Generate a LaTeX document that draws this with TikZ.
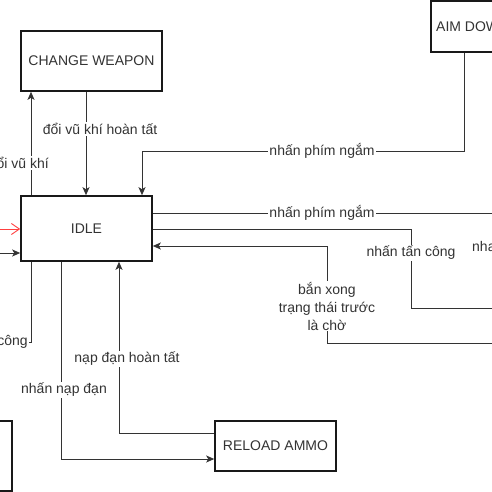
\documentclass[tikz,border=0pt]{standalone}
\usepackage{fontspec}
\setmainfont{Liberation Sans}
\usetikzlibrary{arrows.meta}
\definecolor{ink}{HTML}{333333}
\tikzset{
  state/.style={draw=black!90, line width=1.6pt, fill=white, text=ink, font=\fontsize{14}{17}\selectfont, inner sep=0pt},
  conn/.style={draw=ink, line width=0.9pt},
  arr/.style={conn, -{Stealth[length=8pt,width=7pt,inset=2pt]}},
  redarr/.style={draw=red!75, line width=0.9pt, -{Straight Barb[length=8pt,width=11pt]}},
  lbl/.style={fill=white, text=ink, font=\fontsize{14}{18}\selectfont, inner sep=1pt, align=center}
}
\begin{document}
\begin{tikzpicture}[x=1pt,y=-1pt]
\useasboundingbox (0,0) rectangle (492,492);
\clip (0,0) rectangle (492,492);
\fill[white] (0,0) rectangle (492,492);
% boxes
\node[state, minimum width=141pt, minimum height=60pt] (cw) at (91.5,61) {CHANGE WEAPON};
\node[state, minimum width=131pt, minimum height=65pt] (idle) at (86.5,228.5) {IDLE};
\node[state, minimum width=121pt, minimum height=51pt] (aim) at (491.5,26.5) {};
\node[text=ink, font=\fontsize{14}{17}\selectfont, anchor=west, inner sep=0pt] (aimt) at (436,27) {AIM DOWN};
\node[state, minimum width=121pt, minimum height=50pt] (rel) at (275.5,446) {RELOAD AMMO};
\node[state, minimum width=122pt, minimum height=70pt] (bl) at (-49,456) {};
% coordinates for free ends
\coordinate (l1) at (0,229);
\coordinate (l2) at (0,253);
\coordinate (r1) at (500,213);
\coordinate (r2) at (500,308);
\coordinate (r3) at (500,343);
\coordinate (lb) at (-60,342);
% edges
\draw[arr] (idle.north west -| 31,0) -- (cw.south west -| 31,0);
\node[lbl, anchor=east] (t1) at (50,163) {đổi vũ khí};
\draw[arr] (cw.south -| 86,0) -- (idle.north -| 86,0);
\node[lbl] (t2) at (100,129) {đổi vũ khí hoàn tất};
\draw[arr] (aim.south -| 464,0) -- (464,151) -- (142,151) -- (idle.north -| 142,0);
\node[lbl] (t3) at (322,151) {nhấn phím ngắm};
\draw[conn] (idle.east |- 0,213) -- (r1);
\node[lbl] (t4) at (322,213) {nhấn phím ngắm};
\draw[conn] (idle.east |- 0,229) -- (411,229) -- (411,308) -- (r2);
\node[lbl] (t5) at (411,253) {nhấn tấn công};
\draw[arr] (r3) -- (327,343) -- (327,246) -- (idle.east |- 0,246);
\node[lbl] (t6) at (327,306) {bắn xong\\trạng thái trước\\là chờ};
\draw[redarr] (l1) -- (idle.west |- l1);
\draw[arr] (l2) -- (idle.west |- l2);
\draw[conn] (idle.south -| 31,0) -- (31,342) -- (lb);
\node[lbl, anchor=east] (t7) at (29,342) {nhấn tấn công};
\draw[arr] (idle.south -| 61,0) -- (61,459) -- (rel.west |- 0,459);
\node[lbl] (t8) at (64,390) {nhấn nạp đạn};
\draw[arr] (rel.west |- 0,433) -- (119,433) -- (idle.south -| 119,0);
\node[lbl] (t9) at (127,359) {nạp đạn hoàn tất};
\node[text=ink, font=\fontsize{14}{18}\selectfont, anchor=west, inner sep=0pt] (t10) at (472,246) {nha};
\end{tikzpicture}
\end{document}
